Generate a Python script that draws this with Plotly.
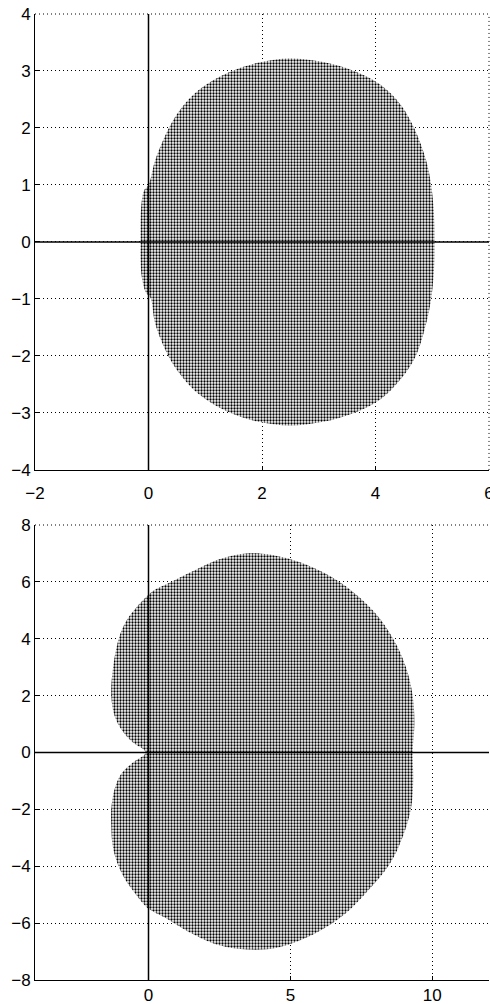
import plotly.graph_objects as go

# ---- data: boundary of the shaded regions ----
top_x = [5.04, 5.03, 4.98, 4.89, 4.71, 4.45, 4.10, 3.62, 3.05, 2.49, 1.92, 1.38, 0.90, 0.58, 0.35, 0.12, 0.035,
         -0.05, -0.12, -0.14, -0.14, -0.14, -0.13, -0.08, 0.00, 0.12, 0.36, 0.58, 0.90, 1.40, 1.95,
         2.49, 3.05, 3.62, 4.10, 4.45, 4.68, 4.89, 4.98, 5.03, 5.04]
top_y = [0.00, -0.50, -1.00, -1.44, -2.00, -2.40, -2.75, -3.00, -3.16, -3.22, -3.15, -2.97, -2.68, -2.35, -2.00, -1.44, -0.98,
         -0.88, -0.60, -0.30, 0.00, 0.30, 0.60, 0.90, 1.00, 1.44, 2.00, 2.35, 2.68, 2.97, 3.15,
         3.22, 3.16, 3.00, 2.75, 2.40, 2.00, 1.44, 1.00, 0.50, 0.00]

bot_x = [-0.10, -0.55, -0.96, -1.20, -1.31, -1.31, -1.26, -1.08, -0.80, -0.49, -0.15, 0.03,
         0.68, 1.44, 2.50, 3.50, 4.60, 5.90, 6.90, 7.70, 8.49, 8.96, 9.25, 9.33, 9.31,
         9.37, 9.31, 9.07, 8.62, 7.95, 6.80, 5.55, 4.26, 3.44, 2.50, 1.44, 0.74, 0.27, 0.00,
         -0.43, -0.80, -1.05, -1.26, -1.31, -1.20, -0.95, -0.60, -0.10]
bot_y = [0.00, -0.35, -0.75, -1.30, -1.97, -2.60, -3.30, -3.94, -4.50, -4.93, -5.35, -5.51,
         -5.86, -6.32, -6.78, -6.93, -6.85, -6.35, -5.70, -4.90, -3.94, -2.96, -1.97, -0.99, 0.00,
         1.04, 2.00, 3.01, 4.00, 4.95, 5.95, 6.61, 6.96, 7.00, 6.80, 6.32, 5.97, 5.75, 5.55,
         5.10, 4.60, 4.00, 2.90, 2.00, 1.30, 0.80, 0.40, 0.00]

top_xticks = [-2, 0, 2, 4, 6]
top_yticks = [-4, -3, -2, -1, 0, 1, 2, 3, 4]
bot_xticks = [0, 5, 10]
bot_yticks = [-8, -6, -4, -2, 0, 2, 4, 6, 8]
top_xrange = [-2, 6]
top_yrange = [-4, 4]
bot_xrange = [-4, 12]
bot_yrange = [-8, 8]

pattern = dict(shape=".", size=3, solidity=0.45, fgcolor="black", bgcolor="white", fillmode="replace")

fig = go.Figure()
fig.add_trace(go.Scatter(x=top_x, y=top_y, mode="lines", fill="toself", line=dict(width=0, shape="spline"),
                         fillpattern=pattern, fillcolor="white", xaxis="x", yaxis="y",
                         showlegend=False, hoverinfo="skip"))
fig.add_trace(go.Scatter(x=bot_x, y=bot_y, mode="lines", fill="toself", line=dict(width=0, shape="spline"),
                         fillpattern=pattern, fillcolor="white", xaxis="x2", yaxis="y2",
                         showlegend=False, hoverinfo="skip"))

font = dict(family="Liberation Sans, Arial, sans-serif", size=17, color="black")
axcommon = dict(showline=True, linecolor="black", linewidth=1, mirror=False,
                ticks="inside", ticklen=4, tickcolor="black", tickwidth=1,
                showgrid=True, gridcolor="black", gridwidth=1, griddash="1px,3px",
                zeroline=False, tickfont=font, fixedrange=True, automargin=False)

dom_top = [0.528, 1.0]
dom_bot = [0.0, 0.471]
fig.update_layout(
    width=490, height=1004,
    margin=dict(l=35, r=1, t=14, b=24, autoexpand=False),
    paper_bgcolor="white", plot_bgcolor="white",
    xaxis=dict(axcommon, range=top_xrange, tickvals=top_xticks, anchor="y", domain=[0, 1],
               ticklabelstandoff=8, ticklabeloverflow="allow"),
    yaxis=dict(axcommon, range=top_yrange, tickvals=top_yticks, anchor="x", domain=dom_top),
    xaxis2=dict(axcommon, range=bot_xrange, tickvals=bot_xticks, anchor="y2", domain=[0, 1]),
    yaxis2=dict(axcommon, range=bot_yrange, tickvals=bot_yticks, anchor="x2", domain=dom_bot),
    font=font,
)

# solid axis lines through the origin, drawn above the shaded regions
for xr, yr in (("x", "y"), ("x2", "y2")):
    fig.add_shape(type="line", xref=xr, yref=yr + " domain", x0=0, x1=0, y0=0, y1=1,
                  line=dict(color="black", width=1.5), layer="above")
    fig.add_shape(type="line", xref=xr + " domain", yref=yr, x0=0, x1=1, y0=0, y1=0,
                  line=dict(color="black", width=1.5), layer="above")
    # dotted grid line along the top edge of each plot
    fig.add_shape(type="line", xref=xr + " domain", yref=yr + " domain", x0=0, x1=1, y0=1, y1=1,
                  line=dict(color="black", width=1, dash="1px,3px"), layer="below")
# dotted grid line at the right edge of the upper plot (tick 6)
fig.add_shape(type="line", xref="x domain", yref="y domain", x0=1, x1=1, y0=0, y1=1,
              line=dict(color="black", width=1, dash="1px,3px"), layer="below")

fig.write_html("out.html", config={"displayModeBar": False},
               post_script="document.body.style.margin='0';document.body.style.overflow='hidden';")
